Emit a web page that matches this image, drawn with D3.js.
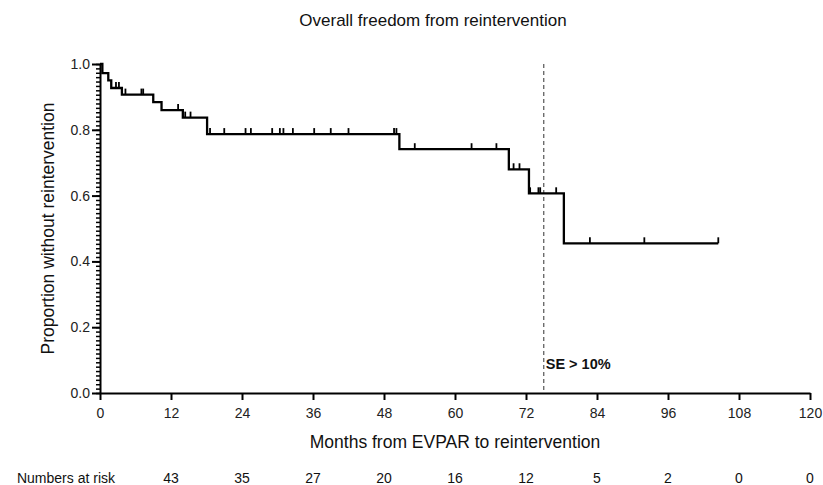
<!DOCTYPE html>
<html>
<head>
<meta charset="utf-8">
<script src="https://cdn.jsdelivr.net/npm/d3@7"></script>
<style>
  html, body { margin: 0; padding: 0; background: #fff; }
  svg { display: block; font-family: "Liberation Sans", Arial, sans-serif; }
</style>
</head>
<body>
<svg id="chart" width="823" height="485"></svg>
<script>
// Kaplan–Meier estimate: times (months) of each drop and the proportion after it
const eventMonths = [0.4, 1.4, 1.9, 3.7, 9.0, 10.4, 14.0, 18.1, 50.6, 69.1, 72.5, 78.4];
const survivalAfter = [0.972, 0.950, 0.927, 0.907, 0.884, 0.860, 0.837, 0.787, 0.741, 0.680, 0.607, 0.455];
// Censored observations (months)
const censorMonths = [2.7, 3.2, 4.3, 7.0, 7.3, 13.2, 14.4, 15.3, 18.6, 21.0, 24.6, 25.5,
  29.1, 30.4, 31.0, 32.6, 36.2, 39.0, 42.0, 49.7, 50.1, 53.2, 62.8, 67.0,
  69.9, 70.9, 72.7, 74.1, 74.4, 77.1, 82.8, 92.0, 104.5];
const lastFollowUp = 104.5;
// Number at risk row
const riskMonths = [12, 24, 36, 48, 60, 72, 84, 96, 108, 120];
const riskCounts = [43, 35, 27, 20, 16, 12, 5, 2, 0, 0];
// Axis ticks
const xTicks = [0, 12, 24, 36, 48, 60, 72, 84, 96, 108, 120];
const yTicks = [0, 0.2, 0.4, 0.6, 0.8, 1.0];
// Month at which the standard error exceeds 10%
const seCutoff = 75;

const svg = d3.select("#chart");
const x = d3.scaleLinear().domain([0, 120]).range([100, 810]);
const y = d3.scaleLinear().domain([0, 1]).range([393, 64]);

// Survival step curve
const pts = [[0, 1]];
eventMonths.forEach((t, i) => pts.push([t, survivalAfter[i]]));
pts.push([lastFollowUp, survivalAfter[survivalAfter.length - 1]]);

function survAt(t) {
  let s = 1;
  eventMonths.forEach((e, i) => { if (e <= t) s = survivalAfter[i]; });
  return s;
}

// Dashed SE reference line
svg.append("line")
  .attr("x1", x(seCutoff)).attr("x2", x(seCutoff))
  .attr("y1", y(1)).attr("y2", y(0))
  .attr("stroke", "#555").attr("stroke-width", 1.2)
  .attr("stroke-dasharray", "4,3");

svg.append("text")
  .attr("x", x(seCutoff) + 2).attr("y", 369)
  .attr("font-size", 14.5).attr("font-weight", "bold").attr("fill", "#111")
  .text("SE > 10%");

svg.append("path")
  .datum(pts)
  .attr("fill", "none").attr("stroke", "#000").attr("stroke-width", 2.3)
  .attr("d", d3.line().x(d => x(d[0])).y(d => y(d[1])).curve(d3.curveStepAfter));

// Censor marks
svg.append("g").selectAll("line").data(censorMonths).join("line")
  .attr("x1", d => x(d)).attr("x2", d => x(d))
  .attr("y1", d => y(survAt(d))).attr("y2", d => y(survAt(d)) - 6)
  .attr("stroke", "#000").attr("stroke-width", 1.8);

// Y axis: minor ticks then major ticks
const minorStep = 0.2 / 15;
const minorVals = d3.range(0, 1 + 1e-9, minorStep).map(v => +v.toFixed(5));
svg.append("g").attr("transform", `translate(${x(0)},0)`)
  .call(d3.axisLeft(y).tickValues(minorVals).tickSize(4).tickFormat(""))
  .call(g => g.select(".domain").remove())
  .selectAll("line").attr("stroke-width", 1.5);

const yAxis = svg.append("g").attr("transform", `translate(${x(0)},0)`)
  .call(d3.axisLeft(y).tickValues(yTicks).tickSize(8).tickSizeOuter(0).tickFormat(d3.format(".1f")));
yAxis.select(".domain").attr("stroke-width", 2);
yAxis.selectAll(".tick line").attr("stroke-width", 2);
yAxis.selectAll("text").attr("font-size", 14).attr("font-family", "Liberation Sans, Arial, sans-serif")
  .attr("fill", "#222").attr("x", -10);

// X axis
const xAxis = svg.append("g").attr("transform", `translate(0,${y(0)})`)
  .call(d3.axisBottom(x).tickValues(xTicks).tickSize(7).tickSizeOuter(0));
xAxis.select(".domain").attr("stroke-width", 2);
xAxis.selectAll(".tick line").attr("stroke-width", 2);
xAxis.selectAll("text").attr("font-size", 14).attr("font-family", "Liberation Sans, Arial, sans-serif")
  .attr("fill", "#222").attr("y", 15);

// Titles
svg.append("text").attr("x", 433).attr("y", 26).attr("text-anchor", "middle")
  .attr("font-size", 17).attr("fill", "#111").text("Overall freedom from reintervention");

svg.append("text").attr("x", 455).attr("y", 448).attr("text-anchor", "middle")
  .attr("font-size", 17.5).attr("fill", "#111").text("Months from EVPAR to reintervention");

svg.append("text")
  .attr("transform", `translate(54,${y(0.5)}) rotate(-90)`)
  .attr("text-anchor", "middle").attr("font-size", 17.5).attr("fill", "#111")
  .text("Proportion without reintervention");

// Numbers at risk row
svg.append("text").attr("x", 115).attr("y", 483).attr("text-anchor", "end")
  .attr("font-size", 14).attr("fill", "#111")
  .text("Numbers at risk");
svg.append("g").selectAll("text").data(riskMonths).join("text")
  .attr("x", d => x(d)).attr("y", 483).attr("text-anchor", "middle")
  .attr("font-size", 14).attr("fill", "#111")
  .text((d, i) => riskCounts[i]);
</script>
</body>
</html>
